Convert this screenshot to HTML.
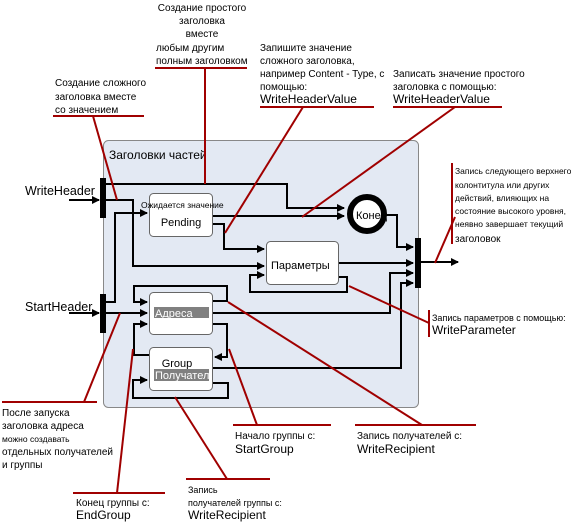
<!DOCTYPE html>
<html><head><meta charset="utf-8"><style>
html,body{margin:0;padding:0;background:#fff;}
svg{display:block;}
text{font-family:"Liberation Sans","DejaVu Sans",sans-serif;fill:#000;}
.s{font-size:10px;}
.m{font-size:11px;}
.l{font-size:12.5px;}
</style></head><body>
<svg width="577" height="522" viewBox="0 0 577 522" xmlns="http://www.w3.org/2000/svg">
<defs>
<marker id="a" markerWidth="8" markerHeight="8" refX="7" refY="4" orient="auto" markerUnits="userSpaceOnUse">
<path d="M0,0 L8,4 L0,8 z" fill="#000"/></marker>
</defs>
<rect x="103.5" y="140.5" width="315" height="267" rx="5" fill="#e3e9f3" stroke="#888" stroke-width="1"/>
<text x="109" y="159" class="l" style="font-size:12px">Заголовки частей</text>

<g fill="none" stroke="#000" stroke-width="2">
<line x1="69" y1="200" x2="99" y2="200" marker-end="url(#a)"/>
<line x1="69" y1="313" x2="99" y2="313" marker-end="url(#a)"/>
<polyline points="105,184 287,184 287,208 344,208" marker-end="url(#a)"/>
<polyline points="105,200 133,200 133,266 264,266" marker-end="url(#a)"/>
<polyline points="105,302 115,302 115,213 147,213" marker-end="url(#a)"/>
<polyline points="212,216 344,216" marker-end="url(#a)"/>
<polyline points="212,224 224,224 224,249 264,249" marker-end="url(#a)"/>
<polyline points="384,215 397,215 397,247 413,247" marker-end="url(#a)"/>
<polyline points="338,263 413,263" marker-end="url(#a)"/>
<polyline points="338,277 347,277 347,292 250,292 250,275 264,275" marker-end="url(#a)"/>
<polyline points="212,301 227,301 227,286 134,286 134,302 147,302" marker-end="url(#a)"/>
<polyline points="105,313 147,313" marker-end="url(#a)"/>
<polyline points="212,313 390,313 390,273 413,273" marker-end="url(#a)"/>
<polyline points="212,324 227,324 227,357 215,357" marker-end="url(#a)"/>
<polyline points="149,355 134,355 134,324 147,324" marker-end="url(#a)"/>
<polyline points="212,383 228,383 228,398 133,398 133,380 147,380" marker-end="url(#a)"/>
<polyline points="212,368 401,368 401,283 413,283" marker-end="url(#a)"/>
<line x1="421" y1="262" x2="458" y2="262" marker-end="url(#a)"/>
</g>
<rect x="100" y="178" width="6" height="40" fill="#000"/>
<rect x="100" y="294" width="6" height="39" fill="#000"/>
<rect x="415" y="238" width="6" height="50" fill="#000"/>

<rect x="149.5" y="193.5" width="63" height="43" rx="4" fill="#fff" stroke="#666"/>
<text x="141" y="208" style="font-size:8.5px">Ожидается значение</text>
<text x="181" y="226" class="m" text-anchor="middle">Pending</text>
<rect x="266.5" y="241.5" width="72" height="43" rx="4" fill="#fff" stroke="#666"/>
<text x="271" y="269" class="m">Параметры</text>
<rect x="149.5" y="292.5" width="63" height="42" rx="4" fill="#fff" stroke="#666"/>
<rect x="154" y="307" width="55" height="11" fill="#808080"/>
<text x="155" y="317" class="m" style="fill:#fff">Адреса</text>
<rect x="149.5" y="347.5" width="63" height="43" rx="4" fill="#fff" stroke="#666"/>
<text x="177" y="367" class="m" text-anchor="middle">Group</text>
<rect x="154" y="369" width="55" height="12" fill="#808080"/>
<svg x="154" y="369" width="55" height="12"><text x="1" y="10" class="m" style="fill:#fff">Получатели</text></svg>
<circle cx="367" cy="214" r="17" fill="#fff" stroke="#000" stroke-width="6"/>
<text x="356" y="219" class="m">Конец</text>

<g stroke="#a00000" stroke-width="2" fill="none">
<line x1="155" y1="68" x2="247" y2="68"/><line x1="205" y1="68" x2="205" y2="184"/>
<line x1="53" y1="116" x2="144" y2="116"/><line x1="93" y1="116" x2="117" y2="200"/>
<line x1="260" y1="107" x2="374" y2="107"/><line x1="303" y1="107" x2="225" y2="233"/>
<line x1="393" y1="107" x2="502" y2="107"/><line x1="455" y1="107" x2="302" y2="217"/>
<line x1="452" y1="163" x2="452" y2="244"/><line x1="455" y1="217" x2="435" y2="263"/>
<line x1="429" y1="310" x2="429" y2="337"/><line x1="349" y1="286" x2="429" y2="323"/>
<line x1="2" y1="402" x2="97" y2="402"/><line x1="120" y1="313" x2="84" y2="402"/>
<line x1="73" y1="493" x2="165" y2="493"/><line x1="133" y1="349" x2="117" y2="493"/>
<line x1="186" y1="479" x2="270" y2="479"/><line x1="175" y1="397" x2="227" y2="479"/>
<line x1="233" y1="425" x2="331" y2="425"/><line x1="229" y1="349" x2="257" y2="425"/>
<line x1="355" y1="425" x2="476" y2="425"/><line x1="228" y1="302" x2="422" y2="425"/>
</g>

<text x="25" y="195" class="l">WriteHeader</text>
<text x="25" y="311" class="l">StartHeader</text>

<g class="s" text-anchor="middle">
<text x="202" y="11">Создание простого</text>
<text x="202" y="24">заголовка</text>
<text x="202" y="37">вместе</text>
</g>
<text x="156" y="51" class="s">любым другим</text>
<text x="156" y="64" class="s">полным заголовком</text>

<text x="55" y="86" class="s">Создание сложного</text>
<text x="55" y="100" class="s">заголовка вместе</text>
<text x="55" y="113" class="s">со значением</text>

<text x="260" y="51" class="s">Запишите значение</text>
<text x="260" y="64" class="s">сложного заголовка,</text>
<text x="260" y="77" class="s">например Content - Type, с</text>
<text x="260" y="90" class="s">помощью:</text>
<text x="260" y="103" class="l" style="font-size:12px">WriteHeaderValue</text>

<text x="393" y="77" class="s">Записать значение простого</text>
<text x="393" y="90" class="s">заголовка с помощью:</text>
<text x="393" y="103" class="l" style="font-size:12px">WriteHeaderValue</text>

<g style="font-size:8.5px">
<text x="455" y="174">Запись следующего верхнего</text>
<text x="455" y="188">колонтитула или других</text>
<text x="455" y="201">действий, влияющих на</text>
<text x="455" y="214">состояние высокого уровня,</text>
<text x="455" y="227">неявно завершает текущий</text>
<text x="455" y="242" class="s">заголовок</text>
</g>

<text x="432" y="321" style="font-size:9px">Запись параметров с помощью:</text>
<text x="432" y="334" class="l" style="font-size:12px">WriteParameter</text>

<text x="2" y="416" class="s">После запуска</text>
<text x="2" y="429" class="s">заголовка адреса</text>
<text x="2" y="442" style="font-size:8.5px">можно создавать</text>
<text x="2" y="455" class="s">отдельных получателей</text>
<text x="2" y="468" class="s">и группы</text>

<text x="235" y="439" class="s">Начало группы с:</text>
<text x="235" y="453" class="l" style="font-size:12px">StartGroup</text>
<text x="357" y="439" class="s">Запись получателей с:</text>
<text x="357" y="453" class="l" style="font-size:12px">WriteRecipient</text>

<text x="188" y="493" style="font-size:9px">Запись</text>
<text x="188" y="506" style="font-size:9px">получателей группы с:</text>
<text x="188" y="519" class="l" style="font-size:12px">WriteRecipient</text>

<text x="76" y="506" class="s">Конец группы с:</text>
<text x="76" y="519" class="l" style="font-size:12px">EndGroup</text>
</svg>
</body></html>
